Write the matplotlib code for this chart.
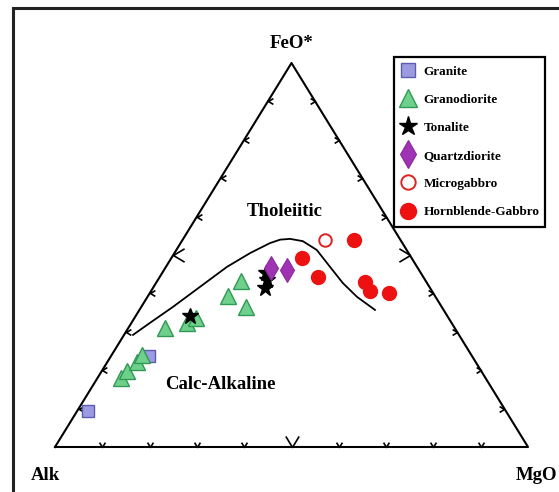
import matplotlib
matplotlib.use('Agg')
import matplotlib.pyplot as plt
from matplotlib.path import Path
from matplotlib.patches import Rectangle

plt.rcParams['font.family'] = ['Liberation Serif', 'DejaVu Serif']
plt.rcParams['font.weight'] = 'bold'

# AFM values (wt% normalised): Alk, FeO*, MgO
granite_alk = [88.3, 68.3]
granite_feo = [9.4, 23.7]
granite_mgo = [2.3, 8.0]

granodiorite_alk = [77.0, 74.9, 71.6, 69.6, 61.2, 55.9, 53.4, 43.8, 39.1, 41.3]
granodiorite_feo = [18.0, 19.8, 22.1, 24.0, 31.0, 32.3, 33.6, 39.3, 43.2, 36.5]
granodiorite_mgo = [5.0, 5.3, 6.3, 6.4, 7.8, 11.8, 13.0, 16.9, 17.7, 22.2]

tonalite_alk = [54.4, 32.7, 33.4, 34.9]
tonalite_feo = [34.1, 45.3, 43.5, 41.4]
tonalite_mgo = [11.5, 22.0, 23.1, 23.7]

qdiorite_alk = [31.0, 27.9]
qdiorite_feo = [46.6, 46.1]
qdiorite_mgo = [22.4, 26.0]

microgabbro_alk = [16.0]
microgabbro_feo = [53.9]
microgabbro_mgo = [30.1]

hbgabbro_alk = [9.8, 23.2, 22.2, 12.9, 13.1, 9.3]
hbgabbro_feo = [53.9, 49.2, 44.3, 43.0, 40.6, 40.1]
hbgabbro_mgo = [36.3, 27.6, 33.5, 44.1, 46.3, 50.6]

# tholeiitic / calc-alkaline boundary
line_alk = [68.9, 63.8, 56.8, 48.5, 40.2, 33.5, 28.0, 25.4, 23.2, 20.8, 19.0, 18.4, 17.8, 16.6, 14.5]
line_feo = [29.2, 32.3, 36.5, 41.7, 46.9, 50.5, 53.1, 54.0, 54.2, 53.6, 51.3, 46.9, 42.7, 39.1, 35.7]
line_mgo = [1.9, 3.9, 6.7, 9.8, 12.9, 16.0, 18.9, 20.6, 22.6, 25.6, 29.7, 34.7, 39.5, 44.3, 49.8]

ticks = [10, 20, 30, 40, 50, 60, 70, 80, 90]


def tern(alk, feo, mgo):
    xs, ys = [], []
    for a, f, m in zip(alk, feo, mgo):
        s = a + f + m
        xs.append(100 * (m + f / 2) / s)
        ys.append(100 * f / s)
    return xs, ys


fig = plt.figure(figsize=(5.59, 4.92), dpi=100)

# outer frame of the figure (cut off at right and bottom)
fig.patches.append(Rectangle((13 / 559, -0.2), 1.2, 0.2 + (492 - 8) / 492,
                             transform=fig.transFigure, fill=False,
                             edgecolor='#222222', linewidth=2.2))

ax = fig.add_axes([55 / 559, 45 / 492, 473 / 559, 384 / 492])
ax.set_xlim(0, 100)
ax.set_ylim(0, 100)
ax.axis('off')

# triangle
ax.plot([0, 100, 50, 0], [0, 0, 100, 0], color='black', lw=1.5, clip_on=False)

# chevron ticks on each side
v_mark = Path([(-0.6, 1), (0, 0), (0.6, 1)], [Path.MOVETO, Path.LINETO, Path.LINETO])
l_mark = Path([(1, 0.6), (0, 0), (1, -0.6)], [Path.MOVETO, Path.LINETO, Path.LINETO])
r_mark = Path([(-1, 0.6), (0, 0), (-1, -0.6)], [Path.MOVETO, Path.LINETO, Path.LINETO])
for t in ticks:
    big = t == 50
    ms = 16 if big else 7
    ax.plot([t], [0], marker=v_mark, ms=ms, mfc='none', mec='black', mew=1.2, clip_on=False)
    ax.plot([t / 2], [t], marker=l_mark, ms=ms, mfc='none', mec='black', mew=1.2, clip_on=False)
    ax.plot([100 - t / 2], [t], marker=r_mark, ms=ms, mfc='none', mec='black', mew=1.2, clip_on=False)

x, y = tern(line_alk, line_feo, line_mgo)
ax.plot(x, y, color='black', lw=1.3, clip_on=False)

x, y = tern(granite_alk, granite_feo, granite_mgo)
ax.plot(x, y, 's', ms=9, mfc='#9c9ae0', mec='#5c5cb0', mew=1, label='Granite', clip_on=False)
x, y = tern(granodiorite_alk, granodiorite_feo, granodiorite_mgo)
ax.plot(x, y, '^', ms=11, mfc='#6fd08c', mec='#2f9a55', mew=1, label='Granodiorite', clip_on=False)
x, y = tern(tonalite_alk, tonalite_feo, tonalite_mgo)
ax.plot(x, y, '*', ms=12, mfc='black', mec='black', label='Tonalite', clip_on=False)
x, y = tern(qdiorite_alk, qdiorite_feo, qdiorite_mgo)
ax.plot(x, y, 'd', ms=12, mfc='#a032b4', mec='#8a2a9c', mew=0.8, label='Quartzdiorite', clip_on=False)
x, y = tern(microgabbro_alk, microgabbro_feo, microgabbro_mgo)
ax.plot(x, y, 'o', ms=9, mfc='white', mec='#e02020', mew=1.4, label='Microgabbro', clip_on=False)
x, y = tern(hbgabbro_alk, hbgabbro_feo, hbgabbro_mgo)
ax.plot(x, y, 'o', ms=10, mfc='#ee1111', mec='#ee1111', label='Hornblende-Gabbro', clip_on=False)

# labels
ax.text(50, 105, 'FeO*', ha='center', va='center', fontsize=13.5, fontweight='bold')
ax.text(-2.1, -7.3, 'Alk', ha='center', va='center', fontsize=13.5, fontweight='bold')
ax.text(101.8, -7.3, 'MgO', ha='center', va='center', fontsize=13.5, fontweight='bold')
ax.text(48.6, 61.2, 'Tholeiitic', ha='center', va='center', fontsize=13.5, fontweight='bold')
ax.text(34.9, 16.4, 'Calc-Alkaline', ha='center', va='center', fontsize=13.5, fontweight='bold')

leg = ax.legend(loc='upper left',
                bbox_to_anchor=(394 / 559, 1 - 223 / 492, 151 / 559, 166 / 492),
                bbox_transform=fig.transFigure, mode='expand', borderaxespad=0,
                fancybox=False, framealpha=1, edgecolor='black',
                prop={'size': 9.5, 'weight': 'bold'},
                handlelength=0.8, handletextpad=0.8, labelspacing=1.2, borderpad=0.65,
                markerscale=1.15, numpoints=1)
leg.get_frame().set_linewidth(1.6)

fig.savefig('out.png', dpi=100)
